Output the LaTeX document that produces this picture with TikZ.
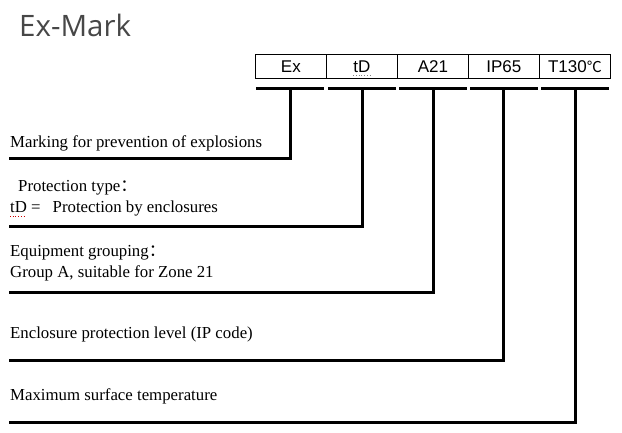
\documentclass[tikz,border=0pt]{standalone}
\usepackage{fontspec}
\setmainfont{Liberation Serif}
\newfontfamily\boxfont{Liberation Sans}
\newfontfamily\titlefont{Open Sans}
\newfontfamily\cjkfont{Noto Sans CJK SC}
\begin{document}
\begin{tikzpicture}[x=1pt,y=-1pt,
  cell/.style={draw, line width=0.8pt, minimum width=71pt, minimum height=24pt, inner sep=0pt,
    anchor=north west, font=\boxfont\fontsize{17}{20}\selectfont},
  lbl/.style={anchor=base west, inner sep=0pt, font=\fontsize{16.8}{20}\selectfont},
  lead/.style={line width=3pt, line join=miter},
  leadshadow/.style={line width=3pt, draw=black!35, line join=miter}]
\useasboundingbox (0,0) rectangle (622,433);

% title
\node[anchor=base west, inner sep=0pt, text=black!72, font=\titlefont\fontsize{29.5}{34}\selectfont] (title) at (19,37) {Ex-Mark};

% code cells
\node[cell] (c1) at (255,54) {Ex};
\node[cell] (c2) at (326,54) {tD};
\node[cell] (c3) at (397,54) {A21};
\node[cell] (c4) at (468,54) {IP65};
\node[cell] (c5) at (539,54) {T130{\cjkfont\fontsize{15}{18}\selectfont\char"2103}};
\draw[black!50, dotted, line width=0.8pt] (353,75) -- (370,75);

% labels
\node[lbl] (t1) at (10,148) {Marking for prevention of explosions};
\node[lbl] (t2a) at (18,192) {Protection type{\cjkfont\char"FF1A}};
\node[lbl] (t2b) at (10,213) {tD =\hspace{12pt}Protection by enclosures};
\draw[red!80!black, dotted, line width=0.7pt] (10,216.5) -- (26,216.5);
\node[lbl] (t3a) at (10,257) {Equipment grouping{\cjkfont\char"FF1A}};
\node[lbl] (t3b) at (10,277) {Group A, suitable for Zone 21};
\node[lbl] (t4) at (10,338) {Enclosure protection level (IP code)};
\node[lbl] (t5) at (10,400) {Maximum surface temperature};

% bars under the cells and leader ends
\foreach \i/\xa/\xm in {1/256/290, 2/328/362, 3/399/433, 4/470/503, 5/541/575} {
  \coordinate (bl\i) at (\xa,89);
  \coordinate (br\i) at (\xa+68,89);
  \coordinate (b\i) at (\xm,89);
}
\coordinate (e1) at (9,159);
\coordinate (e2) at (9,227);
\coordinate (e3) at (9,293);
\coordinate (e4) at (9,360);
\coordinate (e5) at (9,422);

% shadows
\begin{scope}[shift={(1.2,1.2)}]
\foreach \i in {1,...,5} {
  \draw[leadshadow] (bl\i) -- (br\i);
  \draw[leadshadow] (b\i) |- (e\i);
}
\end{scope}
% leaders
\foreach \i in {1,...,5} {
  \draw[lead] (bl\i) -- (br\i);
  \draw[lead] (b\i) |- (e\i);
}
\end{tikzpicture}
\end{document}
